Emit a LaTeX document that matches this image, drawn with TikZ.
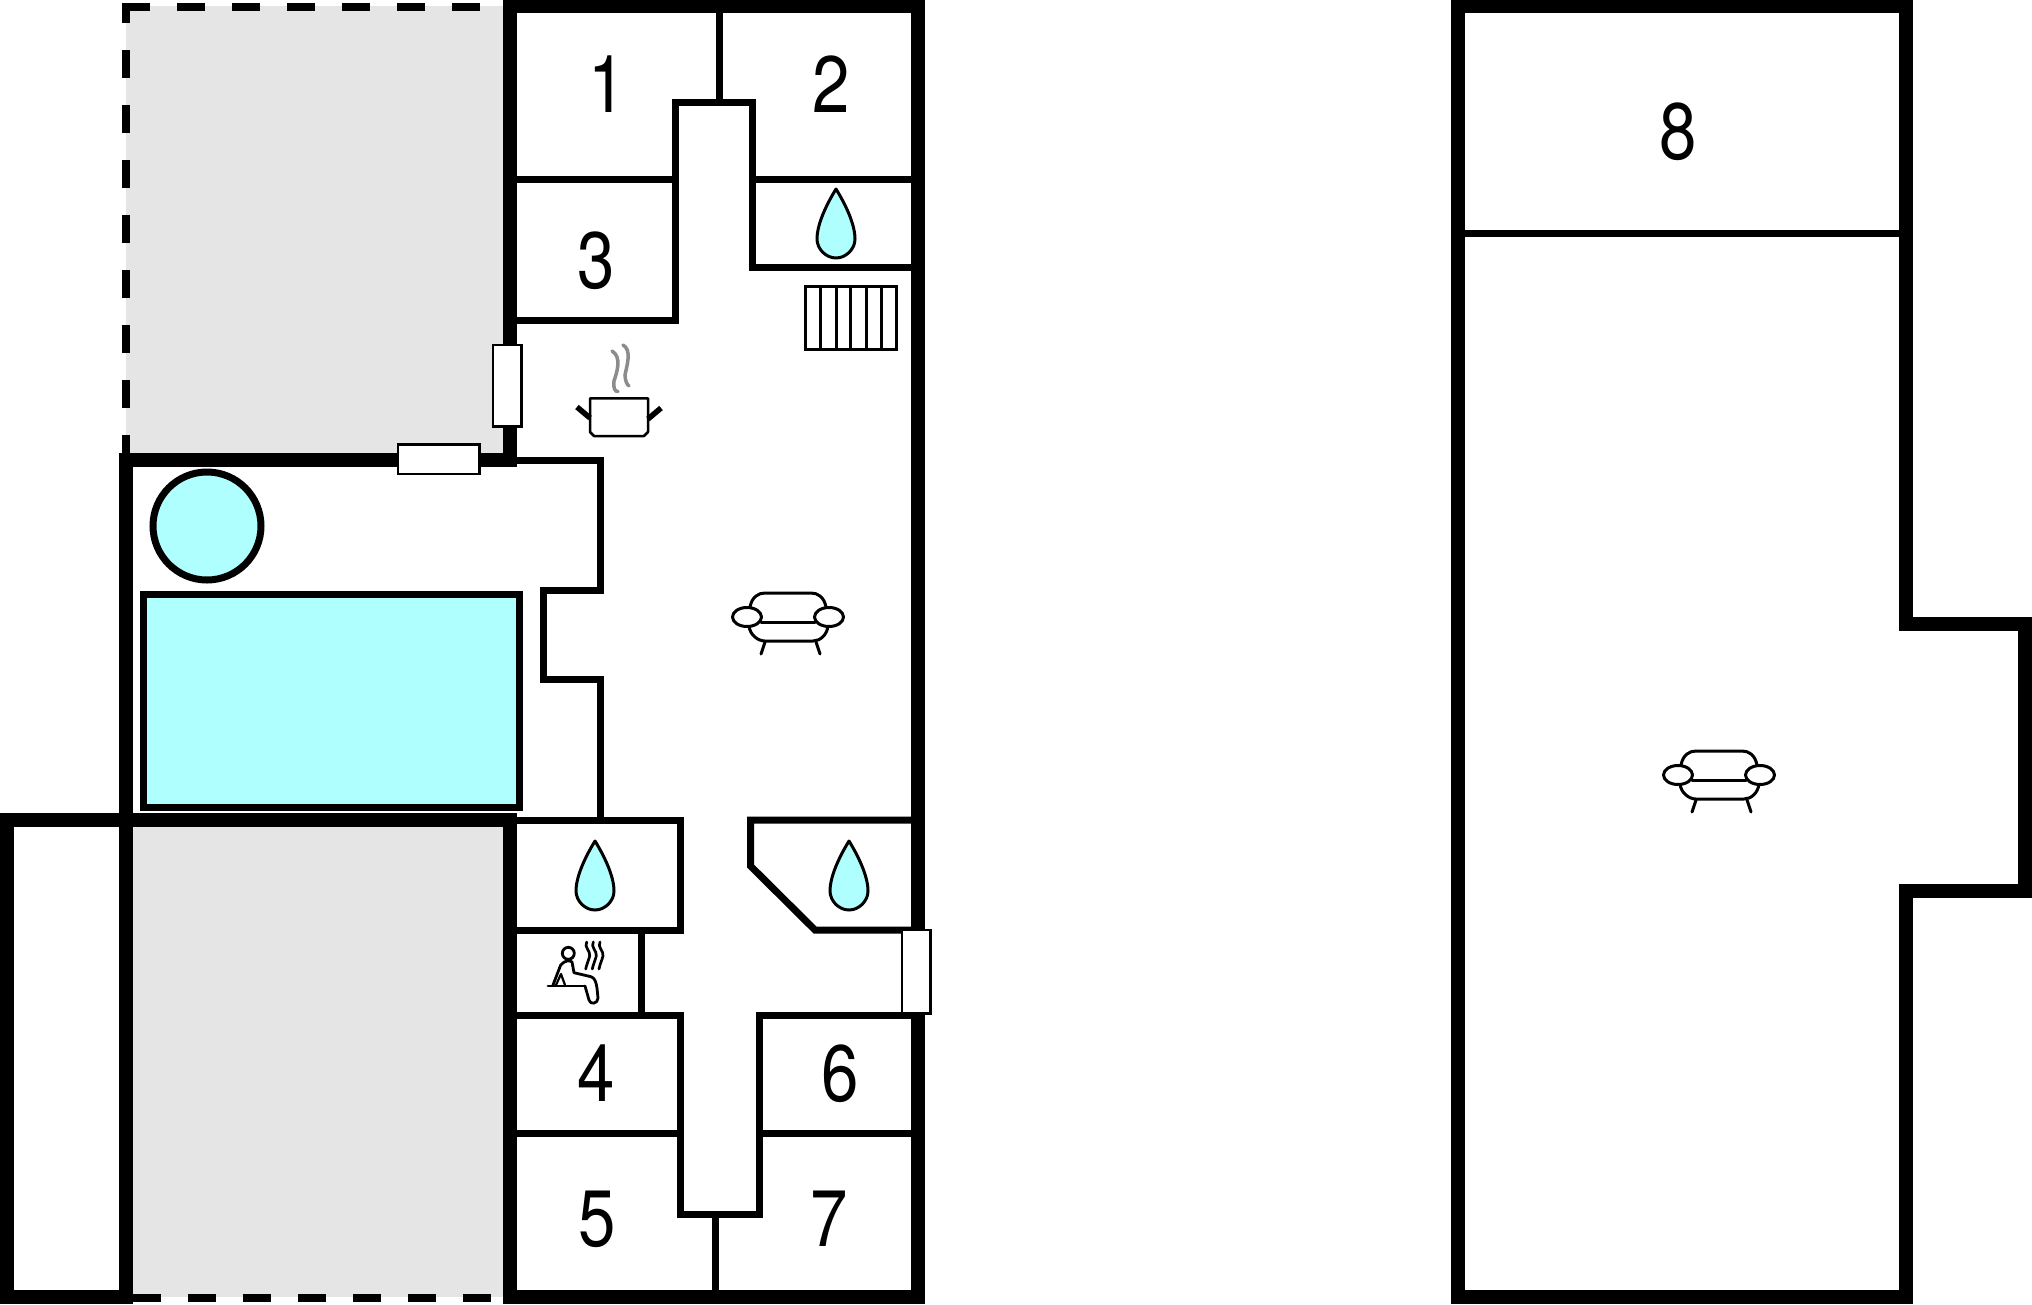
\documentclass[tikz,border=0pt]{standalone}
\usepackage{fontspec}
\setmainfont{TeX Gyre Heros}
\definecolor{aqua}{HTML}{B0FFFF}
\definecolor{yard}{HTML}{E5E5E5}
\definecolor{steam}{HTML}{8C8C8C}
\newcommand{\digitlabel}[1]{\scalebox{0.84}[1]{#1}}
\tikzset{
  thick wall/.style={line width=14pt,line join=miter},
  thin wall/.style={line width=7pt,line join=miter},
  outer dash/.style={line width=8pt,dash pattern=on 27.5pt off 27.5pt},
  window/.style={draw,fill=white,line width=2.5pt},
  num/.style={font=\fontsize{80}{80}\selectfont,inner sep=0pt},
  icon/.style={line width=3pt,line join=round,line cap=round},
  drop/.pic={\draw[fill=aqua,line width=3pt,line join=round]
     (0,0) .. controls (8,13) and (19,34) .. (19,50)
     .. controls (19,60) and (10,69) .. (0,69)
     .. controls (-10,69) and (-19,60) .. (-19,50)
     .. controls (-19,34) and (-8,13) .. (0,0) -- cycle;},
  sofa/.pic={
    \draw[icon] (-38,-10) .. controls (-36,-20) and (-30,-24) .. (-23,-24) -- (23,-24) .. controls (30,-24) and (36,-20) .. (38,-10);
    \draw[icon] (-39,9) .. controls (-38,18) and (-30,24) .. (-23,24) -- (25,24) .. controls (32,24) and (39,18) .. (40,9);
    \draw[icon] (-27,5) -- (27,5);
    \draw[icon] (-23,25) -- (-27,37);
    \draw[icon] (28,25) -- (32,37);
    \draw[icon,fill=white] (-41,0) ellipse [x radius=14.5,y radius=9.5];
    \draw[icon,fill=white] (41,0) ellipse [x radius=14.5,y radius=9.5];
  }
}
\begin{document}
\begin{tikzpicture}[x=1pt,y=-1pt]
\useasboundingbox (0,0) rectangle (2032,1304);
% yards
\fill[yard] (126,6) rectangle (509,460);
\fill[yard] (126,820) rectangle (509,1297);
% dashed outlines
\draw[outer dash] (122,6.5) -- (509,6.5);
\draw[outer dash,dash phase=15pt] (126,10) -- (126,454);
\draw[outer dash,dash phase=-7pt] (126,1297.5) -- (509,1297.5);
% thick outer walls, left building
\draw[thick wall] (509.5,-1) -- (509.5,467);
\draw[thick wall] (119,460) -- (516,460);
\draw[thick wall] (126,460) -- (126,1304);
\draw[thick wall] (0,820) -- (516,820);
\draw[thick wall] (6.5,813) -- (6.5,1304);
\draw[thick wall] (0,1297) -- (133,1297);
\draw[thick wall] (509.5,813) -- (509.5,1304);
\draw[thick wall] (503,6) -- (925,6);
\draw[thick wall] (918,-1) -- (918,1304);
\draw[thick wall] (503,1297) -- (925,1297);
% thin walls, upper part
\draw[thin wall] (719,6) -- (719,102);
\draw[thin wall] (675,102) -- (752,102);
\draw[thin wall] (675,98.5) -- (675,323.5);
\draw[thin wall] (752,98.5) -- (752,270.5);
\draw[thin wall] (516,179) -- (675,179);
\draw[thin wall] (752,179) -- (918,179);
\draw[thin wall] (748.5,267) -- (918,267);
\draw[thin wall] (516,320) -- (678.5,320);
\draw[thin wall] (516,460) -- (600,460) -- (600,590) -- (543,590) -- (543,679) -- (600,679) -- (600,820);
% thin walls, lower part
\draw[thin wall] (516,820) -- (680,820) -- (680,930) -- (516,930);
\draw[thin wall] (641.5,930) -- (641.5,1015);
\draw[thin wall] (516,1015) -- (680,1015);
\draw[thin wall] (680,1011.5) -- (680,1214) -- (759.5,1214) -- (759.5,1015) -- (918,1015);
\draw[thin wall] (516,1133) -- (680,1133);
\draw[thin wall] (759.5,1133) -- (918,1133);
\draw[thin wall] (715,1214) -- (715,1297);
\draw[thin wall] (918,820) -- (750.5,820) -- (750.5,866) -- (815,930) -- (918,930);
% windows
\node[window,minimum width=28.5pt,minimum height=81.5pt,inner sep=0pt] (w1) at (507,385.5) {};
\node[window,minimum width=81.5pt,minimum height=29.5pt,inner sep=0pt] (w2) at (438.7,459.2) {};
\node[window,minimum width=28.5pt,minimum height=83.5pt,inner sep=0pt] (w3) at (916.2,971.7) {};
% pool, spa
\draw[fill=aqua,line width=7pt] (143,594) rectangle (519.5,807);
\draw[fill=aqua,line width=7pt] (207,526) circle [radius=54];
% stairs
\draw[line width=3pt] (805,286) rectangle (896,349);
\foreach \sx in {820,836,850,866,881} \draw[line width=3pt] (\sx,286) -- (\sx,349);
% drops
\pic at (836,189) {drop};
\pic at (595,841) {drop};
\pic at (849,841) {drop};
% pot
\draw[line width=2.5pt,line join=round] (590,398.3) -- (648,398.3) -- (648,432) -- (644,436) -- (594,436) -- (590,432) -- cycle;
\draw[line width=5.5pt] (577,407) -- (590,418);
\draw[line width=5.5pt] (661,408) -- (648,419);
\draw[steam,line width=3.5pt,line cap=round] (612,351) .. controls (622,357) and (617,372) .. (614,381) .. controls (613,388) and (615,392) .. (618,391.5);
\draw[steam,line width=3.5pt,line cap=round] (623,345) .. controls (632,350) and (627,365) .. (625,375) .. controls (625,380) and (627,385) .. (629,386);
% sauna
\draw[line width=2.8pt] (568.3,953.3) circle [radius=6];
\draw[icon,line width=2.8pt] (548,986) -- (585,986);
\draw[icon,line width=2.8pt] (553,985) -- (560.7,965) .. controls (565,960) and (570,960) .. (572,962) -- (574,972.7) -- (591,976.7) .. controls (595,978) and (596,982) .. (597,988) -- (598,998) .. controls (598,1004) and (590,1005) .. (589,1000) -- (585,986);
\draw[icon,line width=2.2pt] (556,985) -- (561,974) -- (565,985);
\foreach \sx in {586.7,593.3,600}
  \draw[icon,line width=2.7pt] (\sx,942) .. controls (\sx-3,947) and (\sx+4,951) .. (\sx+3,956) .. controls (\sx+2,960) and (\sx,964) .. (\sx-1,969);
% sofas
\pic at (788,617) {sofa};
\pic at (1719,775) {sofa};
% numbers
\node[num] (n1) at (607,84.5) {\digitlabel{1}};
\node[num] (n2) at (831,84.5) {\digitlabel{2}};
\node[num] (n3) at (596,261) {\digitlabel{3}};
\node[num] (n4) at (596,1073.5) {\digitlabel{4}};
\node[num] (n5) at (597,1219) {\digitlabel{5}};
\node[num] (n6) at (840,1073.5) {\digitlabel{6}};
\node[num] (n7) at (829,1219) {\digitlabel{7}};
\node[num] (n8) at (1678,131.5) {\digitlabel{8}};
% right building
\draw[thick wall] (1458.3,6) -- (1905.8,6) -- (1905.8,623.7) -- (2025,623.7) -- (2025,891) -- (1905.8,891) -- (1905.8,1297) -- (1458.3,1297) -- cycle;
\draw[thin wall] (1458.3,233) -- (1905.8,233);
\end{tikzpicture}
\end{document}
